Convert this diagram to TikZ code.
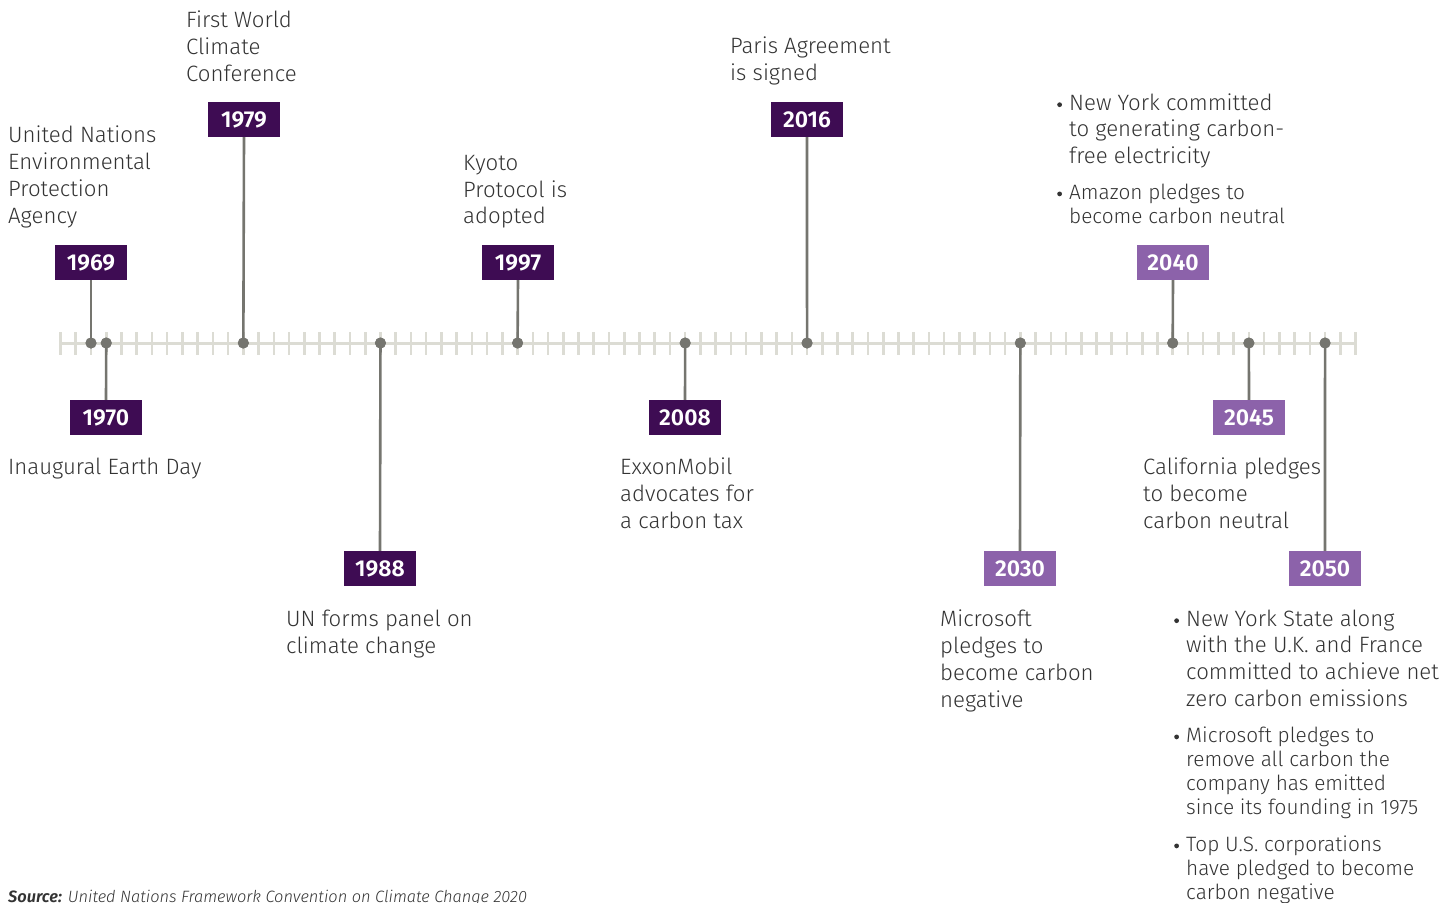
\documentclass[tikz,border=0pt]{standalone}
\usepackage{fontspec}
\setmainfont{Fira Sans}[UprightFont=* Light, BoldFont=* SemiBold, ItalicFont=* Light Italic, BoldItalicFont=* SemiBold Italic]
\definecolor{dpurple}{HTML}{3E0C53}
\definecolor{lpurple}{HTML}{8C62AA}
\definecolor{axisgray}{HTML}{DCDCD4}
\definecolor{stemgray}{HTML}{75756F}
\definecolor{txtgray}{HTML}{333333}
\tikzset{
  yearbox/.style={fill=#1, text=white, minimum width=72pt, minimum height=35pt, inner sep=0pt,
    font=\fontsize{23}{26}\selectfont\bfseries},
  stem/.style={draw=stemgray, line width=2.6pt},
  yeardot/.style={circle, fill=stemgray, minimum size=11pt, inner sep=0pt},
  evtext/.style={anchor=north west, inner sep=0pt, align=left, text=txtgray,
    font=\fontsize{22.2}{26.7}\selectfont},
  bultext/.style={anchor=north west, inner sep=0pt, text=txtgray,
    font=\fontsize{22.2}{26.7}\selectfont},
  bultextsm/.style={anchor=north west, inner sep=0pt, text=txtgray,
    font=\fontsize{20.8}{24}\selectfont},
  axtick/.style={draw=axisgray, line width=2.6pt},
  axline/.style={draw=axisgray, line width=3pt},
}
\newcommand{\bdot}{\tikz[baseline=-5.5pt]\fill[txtgray] (0,0) circle (2.4pt);}
\newcommand{\bitem}[1]{\begin{tabular}{@{}p{12pt}@{}l@{}}\bdot & #1\end{tabular}}
\begin{document}
\begin{tikzpicture}[x=1pt,y=-1pt]
\useasboundingbox (0,0) rectangle (1455,902);
% axis
\coordinate (axL) at (60,343);
\coordinate (axR) at (1357,343);
\draw[axline] (axL) -- (axR);
\foreach \k in {-2,...,83}{
  \draw[axtick] ({91+\k*15.235},332) -- ({91+\k*15.235},355);
}
% dots
\foreach \yr in {1969,1970,1979,1988,1997,2008,2016,2030,2040,2045,2050}{
  \node[yeardot] (d\yr) at ({91+(\yr-1969)*15.235},343) {};
}
% boxes
\node[yearbox=dpurple] (b1969) at (91,262.5) {1969};
\node[yearbox=dpurple] (b1979) at (244,119.5) {1979};
\node[yearbox=dpurple] (b1997) at (518,262.5) {1997};
\node[yearbox=dpurple] (b2016) at (807,119.5) {2016};
\node[yearbox=lpurple] (b2040) at (1173,262.5) {2040};
\node[yearbox=dpurple] (b1970) at (106,417.5) {1970};
\node[yearbox=dpurple] (b2008) at (685,417.5) {2008};
\node[yearbox=lpurple] (b2045) at (1249,417.5) {2045};
\node[yearbox=dpurple] (b1988) at (380,568.5) {1988};
\node[yearbox=lpurple] (b2030) at (1020,568.5) {2030};
\node[yearbox=lpurple] (b2050) at (1325,568.5) {2050};
% stems
\foreach \yr in {1969,1979,1997,2016,2040}{
  \draw[stem] (b\yr.south) -- (d\yr.center);
}
\foreach \yr in {1970,2008,2045,1988,2030,2050}{
  \draw[stem] (b\yr.north) -- (d\yr.center);
}
\foreach \yr in {1969,1970,1979,1988,1997,2008,2016,2030,2040,2045,2050}{
  \node[yeardot] at (d\yr) {};
}
% texts above
\node[evtext] (t1969) at (8,126) {United Nations\\Environmental\\Protection\\Agency};
\node[evtext] (t1979) at (186,11) {First World\\Climate\\Conference};
\node[evtext] (t1997) at (463,155) {Kyoto\\Protocol is\\adopted};
\node[evtext] (t2016) at (730,37) {Paris Agreement\\is signed};
\node[bultext] (t2040a) at (1057,91.3) {\bitem{New York committed\\ & to generating carbon-\\ & free electricity}};
\node[bultextsm] (t2040b) at (1057,182.4) {\bitem{Amazon pledges to\\ & become carbon neutral}};
% texts below
\node[evtext] (t1970) at (8,458) {Inaugural Earth Day};
\node[evtext] (t2008) at (620,458) {ExxonMobil\\advocates for\\a carbon tax};
\node[evtext] (t2045) at (1143,458) {California pledges\\to become\\carbon neutral};
\node[evtext] (t1988) at (286,610) {UN forms panel on\\climate change};
\node[evtext] (t2030) at (940,610) {Microsoft\\pledges to\\become carbon\\negative};
\node[bultext] (t2050a) at (1174,607.3) {\bitem{New York State along\\ & with the U.K. and France\\ & committed to achieve net\\ & zero carbon emissions}};
\node[bultextsm] (t2050b) at (1174,725.4) {\bitem{Microsoft pledges to\\ & remove all carbon the\\ & company has emitted\\ & since its founding in 1975}};
\node[bultextsm] (t2050c) at (1174,834.4) {\bitem{Top U.S. corporations\\ & have pledged to become\\ & carbon negative}};
% source
\node[anchor=base west, inner sep=0pt, text=txtgray, font=\fontsize{16.4}{18}\selectfont\itshape] (src) at (8,902)
  {\textbf{Source:} United Nations Framework Convention on Climate Change 2020};
\end{tikzpicture}
\end{document}
